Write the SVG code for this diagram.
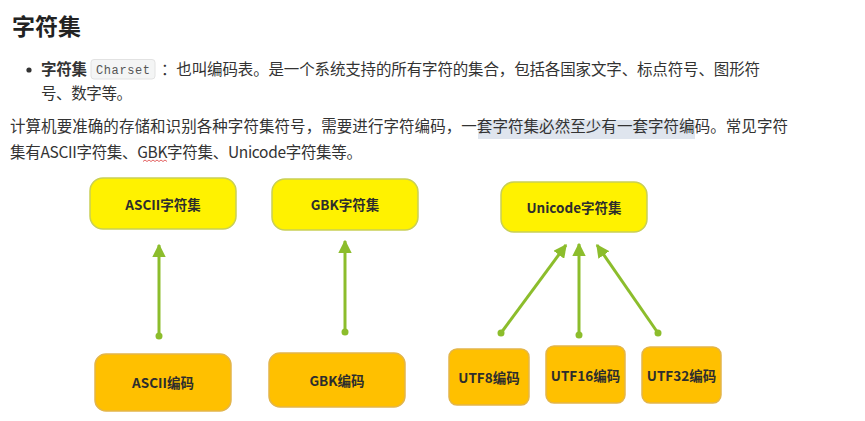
<svg xmlns="http://www.w3.org/2000/svg" width="865" height="421" viewBox="0 0 865 421">
<style>
.t{font-family:"Noto Sans CJK SC","Liberation Sans",sans-serif;fill:#333;font-size:15.5px}
.h{font-family:"Noto Sans CJK SC","Liberation Sans",sans-serif;fill:#222;font-size:23px;font-weight:bold}
.code{font-family:"Liberation Mono","DejaVu Sans Mono",monospace;fill:#555;font-size:12px}
.top{fill:#fff200;stroke:#c9cf55;stroke-width:1.5}
.bot{fill:#ffc000;stroke:#e3b54a;stroke-width:1.5}
.lbl{font-family:"Noto Sans CJK SC","Liberation Sans",sans-serif;fill:#2d2d2d;font-size:13.5px;font-weight:bold;text-anchor:middle;dominant-baseline:central}
.c line{stroke:#8cbd2c;stroke-width:3}
.c circle{fill:#8cbd2c}
</style>
<defs>
<marker id="ah" viewBox="0 0 10 10" refX="9" refY="5" markerWidth="4.5" markerHeight="4.5" markerUnits="strokeWidth" orient="auto">
<path d="M0,0 L10,5 L0,10 z" fill="#8cbd2c"/>
</marker>
</defs>
<rect width="865" height="421" fill="#ffffff"/>
<text class="h" x="12" y="35" textLength="69">字符集</text>
<circle cx="29" cy="70" r="2.6" fill="#333"/>
<text class="t" x="41" y="75" font-weight="bold" textLength="46">字符集</text>
<rect x="91" y="59.5" width="64" height="19.5" rx="3" fill="#f4f5f5" stroke="#e2e2e2"/>
<text class="code" x="96" y="73.5" textLength="54">Charset</text>
<text class="t" x="161" y="75" textLength="599">：也叫编码表。是一个系统支持的所有字符的集合，包括各国家文字、标点符号、图形符</text>
<text class="t" x="41" y="99" textLength="91">号、数字等。</text>
<rect x="478" y="120" width="217" height="19" fill="#dfe5ee"/>
<text class="t" x="10" y="132" textLength="778">计算机要准确的存储和识别各种字符集符号，需要进行字符编码，一套字符集必然至少有一套字符编码。常见字符</text>
<text class="t" x="10" y="158" textLength="352">集有ASCII字符集、GBK字符集、Unicode字符集等。</text>
<path d="M143,161.5 l2,-1.5 l2,1.5 l2,-1.5 l2,1.5 l2,-1.5 l2,1.5 l2,-1.5 l2,1.5 l2,-1.5 l2,1.5 l2,-1.5 l2,1.5" fill="none" stroke="#e05050" stroke-width="0.9"/>

<g class="c" id="connectors">
<line x1="159" y1="336" x2="159" y2="245" marker-end="url(#ah)"/>
<circle cx="159" cy="336" r="3.5"/>
<line x1="345" y1="332" x2="345" y2="241" marker-end="url(#ah)"/>
<circle cx="345" cy="332" r="3.5"/>
<line x1="501" y1="333" x2="566" y2="245" marker-end="url(#ah)"/>
<circle cx="501" cy="333" r="3.5"/>
<line x1="579" y1="335" x2="579" y2="244" marker-end="url(#ah)"/>
<circle cx="579" cy="335" r="3.5"/>
<line x1="658" y1="333" x2="597" y2="245" marker-end="url(#ah)"/>
<circle cx="658" cy="333" r="3.5"/>
</g>

<g id="ascii-set"><rect class="top" x="90" y="178" width="146" height="51" rx="13"/><text class="lbl" x="163" y="204">ASCII字符集</text></g>
<g id="gbk-set"><rect class="top" x="272" y="179" width="146" height="51" rx="13"/><text class="lbl" x="345" y="204">GBK字符集</text></g>
<g id="unicode-set"><rect class="top" x="501" y="182" width="146" height="50" rx="13"/><text class="lbl" x="574" y="207">Unicode字符集</text></g>
<g id="ascii-enc"><rect class="bot" x="95" y="354" width="136" height="57" rx="11"/><text class="lbl" x="163" y="382">ASCII编码</text></g>
<g id="gbk-enc"><rect class="bot" x="269" y="353" width="136" height="54" rx="11"/><text class="lbl" x="337" y="380">GBK编码</text></g>
<g id="utf8-enc"><rect class="bot" x="449" y="349" width="80" height="56" rx="8"/><text class="lbl" x="489" y="377">UTF8编码</text></g>
<g id="utf16-enc"><rect class="bot" x="546" y="346" width="79" height="57" rx="8"/><text class="lbl" x="585.5" y="375">UTF16编码</text></g>
<g id="utf32-enc"><rect class="bot" x="642" y="347" width="79" height="56" rx="8"/><text class="lbl" x="681.5" y="375">UTF32编码</text></g>
</svg>
